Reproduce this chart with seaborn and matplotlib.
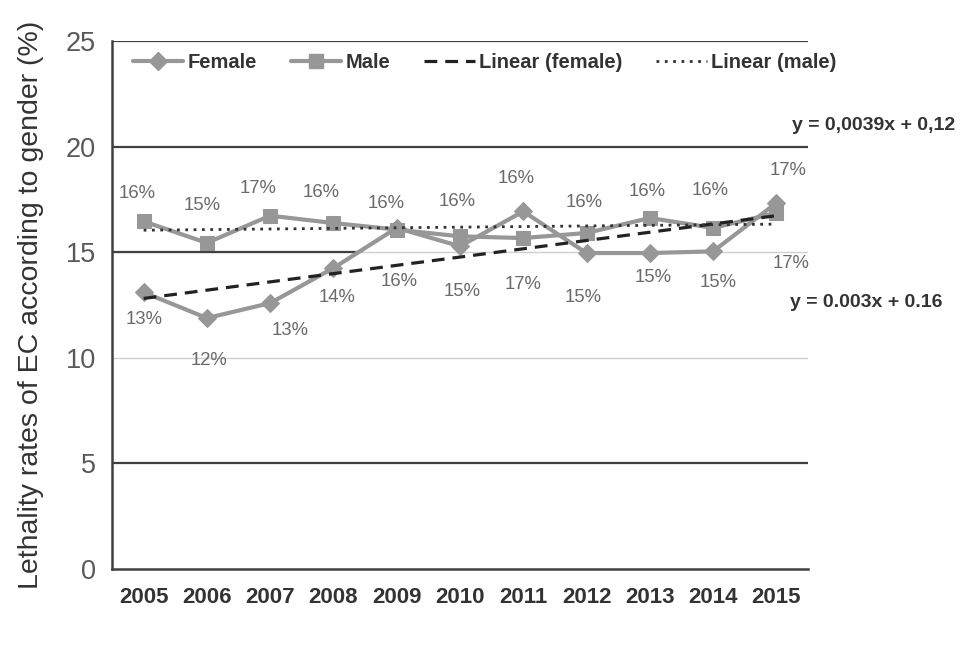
import numpy as np
import pandas as pd
import matplotlib
matplotlib.use("Agg")
import matplotlib.pyplot as plt
from matplotlib.lines import Line2D
import seaborn as sns

# ---------------- data ----------------
years = ["2005", "2006", "2007", "2008", "2009", "2010", "2011", "2012", "2013", "2014", "2015"]
female = [13.1, 11.88, 12.59, 14.25, 16.15, 15.28, 16.93, 14.96, 14.96, 15.04, 17.33]
male = [16.46, 15.44, 16.73, 16.38, 16.07, 15.75, 15.67, 15.91, 16.62, 16.15, 16.86]
male_labels = ["16%", "15%", "17%", "16%", "16%", "16%", "16%", "16%", "16%", "16%", "17%"]
female_labels = ["13%", "12%", "13%", "14%", "16%", "15%", "17%", "15%", "15%", "15%", "17%"]
eq_male = "y = 0,0039x + 0,12"
eq_female = "y = 0.003x + 0.16"
y_ticks = [0, 5, 10, 15, 20, 25]
ylabel = "Lethality rates of EC according to gender (%)"

# label offsets in pixels (style only)
male_lab_dx = [-7, -5, -12, -12, -11, -3, -7, -2, -3, -3, 12]
male_lab_dy = [28, 37, 27, 31, 26, 35, 60, 30, 26, 37, 42]
female_lab_dx = [0, 2, 20, 4, 2, 2, 0, -3, 3, 5, 15]
female_lab_dy = [-27, -42, -27, -29, -54, -45, -73, -44, -24, -31, -61]

df = pd.DataFrame({"idx": np.arange(len(years)), "year": years, "female": female, "male": male})

# ---------------- style ----------------
sns.set_style("white")
plt.rcParams["font.family"] = ["Liberation Sans", "DejaVu Sans"]

W, H = 969, 663
fig = plt.figure(figsize=(W / 100, H / 100), dpi=100)
L, R, B, T = 112, 808, 569, 41
ax = fig.add_axes([L / W, 1 - B / H, (R - L) / W, (B - T) / H])

SERIES = "#979797"
DARK = "#404040"

# gridlines
for yv in [5, 20, 25]:
    ax.axhline(yv, color=DARK, lw=1.6, zorder=1)
ax.axhline(10, color="#cfcfcf", lw=1.0, zorder=1)
ax.axhline(15, color="#cfcfcf", lw=1.0, zorder=1)
ax.axhline(15, xmin=0, xmax=(357 - L) / (R - L), color=DARK, lw=1.6, zorder=1)

# series
sns.lineplot(data=df, x="idx", y="female", ax=ax, color=SERIES, lw=3.0,
             marker="D", markersize=9.5, markeredgecolor=SERIES, zorder=3)
sns.lineplot(data=df, x="idx", y="male", ax=ax, color=SERIES, lw=3.0,
             marker="s", markersize=10, markeredgecolor=SERIES, zorder=3)

# trend lines
sns.regplot(data=df, x="idx", y="female", ax=ax, scatter=False, ci=None,
            line_kws=dict(color="#222222", lw=2.3, ls=(0, (4, 2.5)), zorder=4))
sns.regplot(data=df, x="idx", y="male", ax=ax, scatter=False, ci=None,
            line_kws=dict(color="#333333", lw=2.0, ls=(0, (1, 2)), zorder=4))

# data labels
lab_kw = dict(textcoords="offset pixels", ha="center", va="center",
              fontsize=13.3, color="#6a6a6a", zorder=5)
for i in range(len(years)):
    ax.annotate(male_labels[i], (i, male[i]), xytext=(male_lab_dx[i], male_lab_dy[i]), **lab_kw)
    ax.annotate(female_labels[i], (i, female[i]), xytext=(female_lab_dx[i], female_lab_dy[i]), **lab_kw)

# axes
ax.set_xlim(-0.5, len(years) - 0.5)
ax.set_ylim(0, 25)
ax.set_xticks(np.arange(-0.5, len(years)), labels=[""] * (len(years) + 1))
ax.set_xticks(np.arange(len(years)), labels=years, minor=True)
ax.tick_params(axis="x", which="major", direction="out", length=5, width=1.5, color=DARK)
ax.tick_params(axis="x", which="minor", length=0, pad=13, labelsize=16, labelcolor="#333333")
for t in ax.get_xticklabels(minor=True):
    t.set_fontweight("bold")
ax.set_yticks(y_ticks, labels=[str(v) for v in y_ticks])
ax.tick_params(axis="y", direction="inout", length=11, width=1.5, color=DARK,
               labelsize=19.5, labelcolor="#595959", pad=6)
ax.set_xlabel("")
ax.set_ylabel(ylabel, fontsize=20.5, color="#333333", labelpad=16)
for s in ["top", "right"]:
    ax.spines[s].set_visible(False)
for s in ["left", "bottom"]:
    ax.spines[s].set_color(DARK)
    ax.spines[s].set_linewidth(1.8)
    ax.spines[s].set_zorder(6)

# legend
handles = [
    Line2D([], [], color=SERIES, lw=3.0, marker="D", markersize=9.5, markeredgecolor=SERIES),
    Line2D([], [], color=SERIES, lw=3.0, marker="s", markersize=10, markeredgecolor=SERIES),
    Line2D([], [], color="#222222", lw=2.3, ls=(0, (4, 2.5))),
    Line2D([], [], color="#333333", lw=2.0, ls=(0, (1, 2))),
]
leg = ax.legend(handles, ["Female", "Male", "Linear (female)", "Linear (male)"],
                loc="center left", bbox_to_anchor=((133 - L) / (R - L), (B - 63) / (B - T)),
                ncol=4, frameon=False, borderpad=0, borderaxespad=0,
                handlelength=2.5, handletextpad=0.2, columnspacing=1.7,
                prop=dict(family="Liberation Sans", weight="bold", size=14.5))
for t in leg.get_texts():
    t.set_color("#333333")

# equations
fig.text(792 / W, 1 - 125 / H, eq_male, ha="left", va="center",
         fontsize=14, fontweight="bold", color="#333333")
fig.text(790 / W, 1 - 303 / H, eq_female, ha="left", va="center",
         fontsize=14, fontweight="bold", color="#333333")

fig.savefig("out.png", dpi=100)
